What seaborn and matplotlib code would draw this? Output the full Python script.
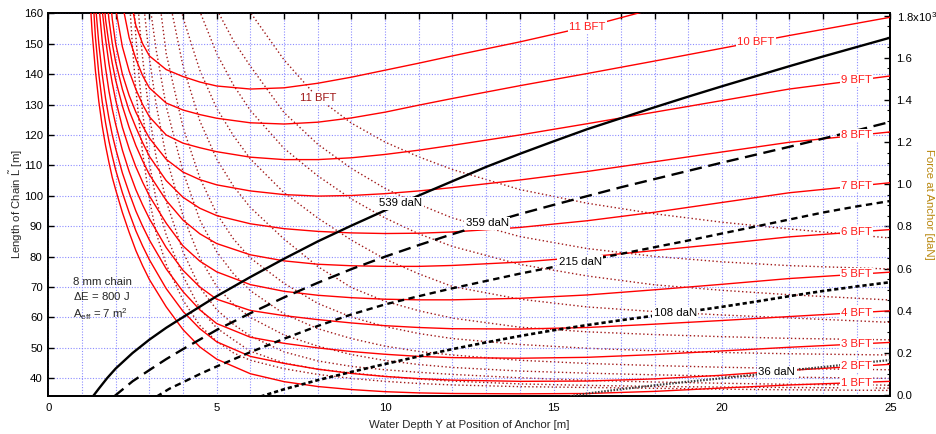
import numpy as np
import pandas as pd
import matplotlib
matplotlib.use("Agg")
import matplotlib.pyplot as plt
from matplotlib.ticker import MultipleLocator, FixedLocator, FuncFormatter
import seaborn as sns

sns.set_theme(style="white")
plt.rcParams["font.family"] = ["Liberation Sans", "DejaVu Sans"]
plt.rcParams["mathtext.fontset"] = "custom"
plt.rcParams["mathtext.rm"] = "Liberation Sans"
plt.rcParams["mathtext.it"] = "Liberation Sans:italic"
plt.rcParams["mathtext.bf"] = "Liberation Sans:bold"

FS = 8.2

# ---------------- chain length needed per Beaufort force [m] ----------------
depth_grid = [1.2, 1.3, 1.4, 1.5, 1.6, 1.7, 1.8, 1.9, 2.0, 2.2, 2.4, 2.6, 2.8, 3.0,
              3.5, 4.0, 4.5, 5, 6, 7, 8, 9, 10, 11, 12, 14, 16, 18, 20, 22, 25]
N = None
len_bft1 = [172, 154, 141, 131, 123, 116.5, 111, 106, 102, 94.5, 88, 82, 77, 72.5,
            63.5, 56, 50.3, 46.3, 41.5, 38.9, 37.3, 36.3, 35.6, 35.2, 35.0, 34.9, 35.0, 35.7, 36.8, 37.8, 39.0]
len_bft2 = [N, 170, 152, 140, 131, 124, 118, 113, 108.5, 101, 94.5, 88.5, 83.5, 79,
            69.5, 62, 56.3, 52, 47.2, 44.9, 43.0, 41.6, 40.6, 39.9, 39.4, 39.0, 39.1, 39.8, 41.0, 42.6, 44.6]
len_bft3 = [N, N, 163, 150, 140, 132, 125.5, 120, 115.5, 107.5, 101, 95, 90, 85.5,
            76, 68.5, 62.5, 58, 53.5, 51.5, 50.0, 48.8, 47.9, 47.2, 46.8, 46.6, 46.9, 47.8, 49.0, 50.2, 51.8]
len_bft4 = [N, N, 180, 163, 151, 142, 134.5, 128.5, 123.5, 115, 108, 102, 97, 92.5,
            83, 75.5, 70, 66, 62.3, 60.6, 59.3, 58.2, 57.3, 56.7, 56.3, 56.2, 56.7, 57.8, 59.0, 60.3, 62.2]
len_bft5 = [N, N, 195, 178, 161, 151.5, 143.5, 137, 131.5, 122.5, 115.5, 109.5, 104.5, 100,
            91, 83.5, 78.5, 75, 70.8, 68.6, 67.3, 66.5, 66.0, 65.8, 65.8, 66.3, 67.4, 69.1, 70.9, 72.8, 74.9]
len_bft6 = [N, N, N, 188, 171, 158, 150, 143.5, 138, 129.5, 122.5, 116.5, 111.5, 107,
            98.5, 92, 87.5, 84.3, 80.6, 78.6, 77.5, 77.0, 76.8, 76.8, 77.1, 78.2, 79.9, 82.0, 84.2, 86.5, 88.9]
len_bft7 = [N, N, N, N, 185, 170, 158, 150, 144, 135, 128, 122.5, 117.5, 113,
            105, 99.5, 95.9, 93.5, 90.8, 89.2, 88.3, 87.8, 87.6, 87.7, 88.1, 89.6, 91.8, 94.6, 97.8, 101.0, 104.3]
len_bft8 = [N, N, N, N, N, 185, 170, 158, 150, 140, 133, 127.5, 123, 119,
            112, 107.8, 105.3, 103.6, 101.6, 100.4, 99.9, 100.1, 100.7, 101.6, 102.7, 105.2, 108.0, 111.2, 114.4, 117.6, 121.0]
len_bft9 = [N, N, N, N, N, N, 190, 175, 161.5, 149, 141, 135, 130, 126,
            120, 117.3, 115.8, 114.5, 112.7, 111.9, 111.9, 112.5, 113.6, 115.0, 116.6, 120.0, 123.7, 127.5, 131.3, 135.1, 139.4]
len_bft10 = [N, N, N, N, N, N, N, 230, 195, 163, 152, 145, 139.5, 135.5,
             130.5, 128.2, 126.7, 125.5, 124.0, 123.6, 124.2, 125.6, 127.5, 129.8, 132.0, 136.2, 140.2, 144.3, 148.5, 152.7, 158.7]
len_bft11 = [N, N, N, N, N, N, N, N, N, 195, 167, 156, 150, 146,
             141.5, 139.2, 137.4, 136.1, 135.1, 135.5, 137.0, 139.0, 141.3, 143.6, 146.0, 150.6, 155.6, 161.5, 168, 175, 185]

beaufort = list(range(1, 12))
chain_lengths = [len_bft1, len_bft2, len_bft3, len_bft4, len_bft5, len_bft6,
                 len_bft7, len_bft8, len_bft9, len_bft10, len_bft11]
bft_label_depth = [24.0] * 9 + [21.0, 16.0]

# ---------------- force at anchor per Beaufort force [daN] ----------------
force_depth = [2.4, 2.5, 2.6, 2.7, 2.8, 3.0, 3.2, 3.5, 4.0, 4.5, 5, 5.5, 6,
               7, 8, 9, 10, 11, 12, 14, 16, 18, 20, 22, 25]
force_bft1 = [1900, 1650, 1450, 1290, 1150, 930, 770, 620, 450, 330, 255, 200, 165,
              125, 98, 79, 65, 55, 48, 40, 36, 32, 28, 25, 22]
force_bft2 = [N, 1950, 1700, 1500, 1340, 1100, 930, 760, 565, 410, 318, 262, 208,
              152, 123, 105, 89, 76, 66, 53, 46, 41, 38, 36, 33]
force_bft3 = [N, N, 2000, 1770, 1600, 1330, 1130, 920, 680, 510, 405, 335, 280,
              205, 162, 136, 120, 108, 98, 82, 70, 62, 56, 51, 47]
force_bft4 = [N, N, N, N, 1900, 1600, 1380, 1130, 850, 650, 515, 430, 368,
              285, 232, 192, 164, 145, 131, 114, 104, 96, 90, 85, 79]
force_bft5 = [N, N, N, N, N, 1870, 1640, 1370, 1060, 830, 680, 575, 495,
              385, 315, 268, 232, 207, 190, 165, 150, 140, 132, 126, 120]
force_bft6 = [N, N, N, N, N, N, 2000, 1620, 1270, 1030, 860, 740, 650,
              530, 435, 370, 325, 292, 268, 240, 222, 210, 202, 196, 190]
force_bft7 = [N, N, N, N, N, N, N, 1950, 1560, 1300, 1120, 990, 890,
              740, 610, 510, 445, 400, 365, 322, 300, 287, 277, 269, 262]
force_bft8 = [N, N, N, N, N, N, N, 2250, 1790, 1540, 1360, 1230, 1120,
              960, 840, 735, 645, 575, 515, 455, 418, 396, 380, 366, 345]
force_bft9 = [N, N, N, N, N, N, N, N, 2150, 1820, 1620, 1470, 1350,
              1170, 1040, 930, 840, 765, 705, 620, 565, 523, 497, 476, 451]
force_bft10 = [N, N, N, N, N, N, N, N, N, 2100, 1830, 1680, 1560,
               1340, 1190, 1075, 980, 905, 840, 752, 695, 658, 632, 614, 598]
force_bft11 = [N, N, N, N, N, N, N, N, N, N, N, 2050, 1815,
               1590, 1410, 1290, 1200, 1130, 1070, 975, 910, 860, 820, 788, 745]
anchor_forces = [force_bft1, force_bft2, force_bft3, force_bft4, force_bft5, force_bft6,
                 force_bft7, force_bft8, force_bft9, force_bft10, force_bft11]

# ---------------- chain length for constant anchor force [m] ----------------
c539_depth = [1.3, 1.5, 1.75, 2, 2.5, 3, 3.5, 4, 5, 6, 7, 8, 9, 10, 11, 12, 13, 14, 15, 16,
              17, 18, 19, 20, 21, 22, 23, 24, 25]
c539_len = [33.7, 36.6, 40.1, 43.2, 48.3, 52.7, 56.6, 60.1, 67.0, 73.3, 79.3, 85.0, 90.2,
            95.2, 100.1, 104.8, 109.5, 113.8, 117.9, 121.9, 125.5, 129.1, 132.6, 136.0,
            139.3, 142.6, 145.8, 148.9, 152.0]
c359_depth = [1.95, 2.5, 3, 3.5, 4, 5, 6, 7, 8, 9, 10, 11, 12, 13, 14, 15, 16, 17, 18, 19,
              20, 21, 22, 23, 24, 25]
c359_len = [34.0, 39.0, 42.7, 46.3, 49.6, 55.9, 61.4, 66.6, 71.4, 75.9, 80.0, 83.8, 87.4,
            90.8, 94.0, 97.0, 99.9, 102.8, 105.5, 108.2, 110.9, 113.5, 116.1, 118.8, 121.5, 124.3]
c215_depth = [3.2, 3.6, 4, 4.5, 5, 6, 7, 8, 9, 10, 11, 12, 13, 14, 15, 16, 17, 18, 19, 20,
              21, 22, 23, 24, 25]
c215_len = [33.9, 36.6, 38.7, 41.4, 43.9, 48.6, 53.0, 57.2, 61.0, 64.3, 67.0, 69.6, 72.0,
            74.4, 76.6, 78.8, 80.9, 83.1, 85.3, 87.6, 89.9, 92.2, 94.5, 96.5, 98.3]
c108_depth = [6.3, 7, 8, 9, 10, 11, 12, 13, 14, 15, 16, 17, 18, 19, 20, 21, 22, 23, 24, 25]
c108_len = [34.0, 36.4, 39.4, 42.1, 44.7, 47.2, 49.6, 51.8, 53.9, 55.8, 57.5, 59.1, 60.6,
            61.9, 63.5, 65.2, 67.0, 68.7, 70.2, 71.6]
c36_depth = [15.5, 16, 17, 18, 19, 20, 21, 22, 23, 24, 25]
c36_len = [34.1, 35.0, 36.4, 37.7, 38.9, 40.0, 41.2, 42.6, 43.7, 44.9, 46.0]
contour_names = ["539 daN", "359 daN", "215 daN", "108 daN", "36 daN"]
contour_label_depth = [10.47, 13.03, 15.79, 18.61, 21.63]

# ---------------- tidy frames ----------------
red_rows = [(b, d, v) for b, vals in zip(beaufort, chain_lengths)
            for d, v in zip(depth_grid, vals) if v is not None]
red_df = pd.DataFrame(red_rows, columns=["bft", "depth", "length"])
force_rows = [(b, d, v) for b, vals in zip(beaufort, anchor_forces)
              for d, v in zip(force_depth, vals) if v is not None]
force_df = pd.DataFrame(force_rows, columns=["bft", "depth", "force"])

contours = [(c539_depth, c539_len), (c359_depth, c359_len), (c215_depth, c215_len),
            (c108_depth, c108_len), (c36_depth, c36_len)]
contour_styles = [
    dict(color="black", lw=1.7, ls="-"),
    dict(color="black", lw=1.7, ls=(0, (5.2, 2.8))),
    dict(color="black", lw=1.7, ls=(0, (2.7, 1.9))),
    dict(color="black", lw=1.9, ls=(0, (1.6, 1.1))),
    dict(color="#3a3a3a", lw=1.6, ls=(0, (0.7, 0.7))),
]

# ---------------- figure ----------------
fig = plt.figure(figsize=(9.36, 4.34), dpi=100)
ax = fig.add_axes([48.3 / 936, 1 - 395.7 / 434, 842.0 / 936, 382.4 / 434])
ax2 = ax.twinx()
ax.set_zorder(ax2.get_zorder() + 1)
ax.patch.set_visible(False)

# dotted anchor-force curves on the right-hand scale
sns.lineplot(data=force_df, x="depth", y="force", units="bft", estimator=None, sort=False,
             color="#a01818", lw=1.0, ls=(0, (1, 1.8)), ax=ax2, legend=False)

# chain length curves per Beaufort force
sns.lineplot(data=red_df, x="depth", y="length", units="bft", estimator=None, sort=False,
             color="#ff0000", lw=1.0, ax=ax, legend=False, zorder=3)

# constant anchor force contours
for (dx, ly), st in zip(contours, contour_styles):
    sns.lineplot(x=dx, y=ly, estimator=None, sort=False, ax=ax, legend=False, zorder=4,
                 color=st["color"], lw=st["lw"], ls=st["ls"])

ax.set_xlim(0, 25)
ax.set_ylim(34.28, 160)
ax2.set_ylim(-3, 1811)

box = dict(boxstyle="square,pad=0.12", fc="white", ec="none")

# Beaufort labels on the chain-length curves
for b, vals, lx in zip(beaufort, chain_lengths, bft_label_depth):
    xs = [d for d, v in zip(depth_grid, vals) if v is not None]
    ys = [v for v in vals if v is not None]
    ax.text(lx, np.interp(lx, xs, ys), f"{b} BFT", color="#ff1a1a", fontsize=FS,
            ha="center", va="center", bbox=box, zorder=10)

# label on the strongest anchor-force curve
fx = [d for d, v in zip(force_depth, force_bft11) if v is not None]
fy = [v for v in force_bft11 if v is not None]
ax.text(8.02, np.interp(8.02, fx, fy), "11 BFT", color="#a01818", fontsize=FS,
        ha="center", va="center", bbox=box, zorder=10, transform=ax2.transData)

# contour labels
for (dx, ly), name, lx in zip(contours, contour_names, contour_label_depth):
    ax.text(lx, np.interp(lx, dx, ly), name, color="black", fontsize=FS,
            ha="center", va="center", bbox=box, zorder=10)

# chain parameters
ax.text(0.74, 71.6, "8 mm chain", fontsize=FS, ha="left", va="center", zorder=10)
ax.text(0.74, 67.0, r"$\Delta$E = 800 J", fontsize=FS, ha="left", va="center", zorder=10)
ax.text(0.74, 61.2, r"A$_{\mathrm{eff}}$ = 7 m$^{2}$", fontsize=FS, ha="left", va="center", zorder=10)

# axes, ticks and grid
ax.xaxis.set_major_locator(MultipleLocator(1))
ax.xaxis.set_major_formatter(FuncFormatter(
    lambda v, p: f"{int(round(v))}" if int(round(v)) % 5 == 0 else ""))
ax.yaxis.set_major_locator(FixedLocator(np.arange(40, 161, 10)))
ax.tick_params(axis="both", which="major", direction="in", length=4.5, width=1.0,
               labelsize=FS, top=True, right=False, colors="black")
ax.tick_params(axis="x", pad=5)
ax.tick_params(axis="y", pad=4)
ax.set_axisbelow(True)
ax.grid(True, color="#8080ff", lw=0.8, ls=(0, (1, 1.5)), alpha=0.9)

ax2.yaxis.set_major_locator(FixedLocator(np.arange(0, 1801, 200)))
ax2.yaxis.set_minor_locator(FixedLocator(np.arange(0, 1811, 50)))
ax2.yaxis.set_major_formatter(FuncFormatter(
    lambda v, p: r"1.8x10$^{3}$" if v >= 1799 else f"{v / 1000:.1f}"))
ax2.tick_params(axis="y", which="major", direction="in", length=4.5, width=1.0,
                labelsize=FS, pad=4.5, colors="black")
ax2.tick_params(axis="y", which="minor", direction="in", length=2.5, width=0.8, colors="black")
ax2.grid(False)

for a in (ax, ax2):
    a.set_xlabel("")
    a.set_ylabel("")
    for s in a.spines.values():
        s.set_color("black")
        s.set_linewidth(1.3)

fig.text(469.3 / 936, 1 - 424.7 / 434, "Water Depth Y at Position of Anchor [m]",
         fontsize=FS, ha="center", va="center")
fig.text(16.7 / 936, 1 - 204.5 / 434, r"Length of Chain $\tilde{\mathrm{L}}$ [m]",
         fontsize=FS, ha="center", va="center", rotation=90)
fig.text(929.5 / 936, 1 - 204.5 / 434, "Force at Anchor [daN]", color="#b8860b",
         fontsize=FS, ha="center", va="center", rotation=270)

fig.savefig("out.png", dpi=100, facecolor="white")
